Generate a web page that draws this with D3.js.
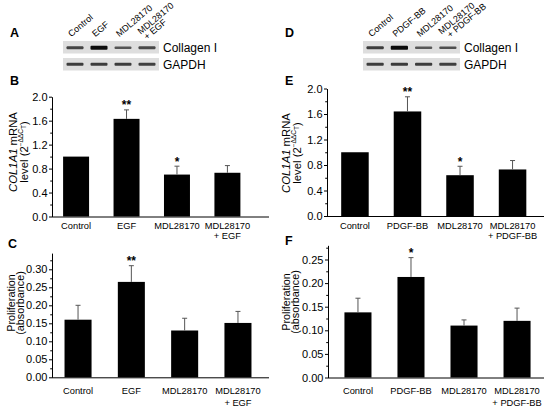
<!DOCTYPE html>
<html><head><meta charset="utf-8">
<script src="https://cdn.jsdelivr.net/npm/d3@7"></script>
<style>
body{margin:0;background:#fff}
svg{display:block;font-family:Arial,"Liberation Sans",Helvetica,sans-serif}
</style>
</head><body>
<svg id="c" width="549" height="407"></svg>
<script>
// ---------- data ----------
const categoriesEGF = ["Control", "EGF", "MDL28170", "MDL28170\n+ EGF"];
const categoriesPDGF = ["Control", "PDGF-BB", "MDL28170", "MDL28170\n+ PDGF-BB"];

const mrnaEGF = [1.00, 1.63, 0.70, 0.73];
const mrnaEGFErr = [0, 0.15, 0.14, 0.12];
const mrnaEGFSig = ["", "**", "*", ""];

const mrnaPDGF = [1.00, 1.64, 0.64, 0.73];
const mrnaPDGFErr = [0, 0.23, 0.14, 0.14];
const mrnaPDGFSig = ["", "**", "*", ""];

const prolifEGF = [0.160, 0.265, 0.130, 0.151];
const prolifEGFErr = [0.040, 0.045, 0.034, 0.032];
const prolifEGFSig = ["", "**", "", ""];

const prolifPDGF = [0.138, 0.213, 0.110, 0.120];
const prolifPDGFErr = [0.030, 0.041, 0.012, 0.027];
const prolifPDGFSig = ["", "*", "", ""];

const mrnaTicks = [0, 0.4, 0.8, 1.2, 1.6, 2.0];
const mrnaMinorTicks = [0.2, 0.6, 1.0, 1.4, 1.8];
const prolifEGFTicks = [0, 0.05, 0.10, 0.15, 0.20, 0.25, 0.30];
const prolifEGFMinorTicks = [0.025, 0.075, 0.125, 0.175, 0.225, 0.275, 0.325];
const prolifPDGFTicks = [0, 0.05, 0.10, 0.15, 0.20, 0.25];
const prolifPDGFMinorTicks = [0.025, 0.075, 0.125, 0.175, 0.225, 0.275];

// western blot band intensities (relative)
const blotCollagenA = [0.55, 1.0, 0.42, 0.5];
const blotGapdhA = [0.6, 0.6, 0.6, 0.58];
const blotCollagenD = [0.6, 1.0, 0.38, 0.45];
const blotGapdhD = [0.6, 0.62, 0.6, 0.58];
const blotRows = ["Collagen I", "GAPDH"];

const panelLetters = ["A", "B", "C", "D", "E", "F"];

// ---------- drawing ----------
const svg = d3.select("#c");
const FONT = "Arial,'Liberation Sans',Helvetica,sans-serif";

const defs = svg.append("defs");
defs.append("filter").attr("id", "blur").attr("x", "-20%").attr("y", "-100%").attr("width", "140%").attr("height", "300%")
  .append("feGaussianBlur").attr("stdDeviation", 0.7);

// panel letters
const letterPos = [[10, 37], [10, 85], [8, 248], [285, 37], [285, 85], [285, 245]];
svg.selectAll("text.letter").data(panelLetters).join("text")
  .attr("class", "letter")
  .attr("x", (d, i) => letterPos[i][0]).attr("y", (d, i) => letterPos[i][1])
  .attr("font-size", 12.5).attr("font-weight", "bold").text(d => d);

function blot(cfg) {
  const g = svg.append("g");
  const lanes = d3.scaleBand().domain(cfg.cats).range([cfg.x0, cfg.x1]);
  const rowY = d3.scaleOrdinal().domain(blotRows).range([cfg.y0, cfg.y0 + 17]);
  const rowH = 12.5;
  const rows = [cfg.collagen, cfg.gapdh];
  blotRows.forEach((r, ri) => {
    g.append("rect").attr("x", cfg.x0).attr("y", rowY(r)).attr("width", cfg.x1 - cfg.x0).attr("height", rowH)
      .attr("fill", "#dedede");
    g.selectAll(null).data(rows[ri]).join("rect")
      .attr("x", (d, i) => lanes(cfg.cats[i]) + 3.5)
      .attr("width", lanes.bandwidth() - 7)
      .attr("y", d => rowY(r) + rowH / 2 - (1.4 + 2.8 * d) / 2 + (ri === 0 ? 0.5 : 0))
      .attr("height", d => 1.4 + 2.8 * d)
      .attr("rx", 1)
      .attr("fill", d => d3.interpolateRgb("#8a8a8a", "#0a0a0a")(d))
      .attr("filter", "url(#blur)");
    g.append("text").attr("x", cfg.x1 + 4).attr("y", rowY(r) + rowH / 2 + 4.5)
      .attr("font-size", 12).text(r);
  });
  // lane labels (rotated)
  cfg.cats.forEach((c, i) => {
    const lines = c.split("\n");
    const t = g.append("text")
      .attr("transform", `translate(${lanes(c) + lanes.bandwidth() / 2 - 3},${cfg.y0 - 3}) rotate(-40)`)
      .attr("font-size", 9);
    if (lines.length === 1) {
      t.append("tspan").attr("x", 0).attr("dy", -1).text(lines[0]);
    } else {
      t.append("tspan").attr("x", -0.5).attr("dy", -4.5).text(lines[0]);
      t.append("tspan").attr("x", cfg.line2dx).attr("dy", 8).text(lines[1]);
    }
  });
}

blot({x0: 63, x1: 159, y0: 41, cats: categoriesEGF, collagen: blotCollagenA, gapdh: blotGapdhA, line2dx: 1});
blot({x0: 363, x1: 460, y0: 41, cats: categoriesPDGF, collagen: blotCollagenD, gapdh: blotGapdhD, line2dx: 4});

function barPanel(cfg) {
  const g = svg.append("g");
  const pxPerUnit = (cfg.yZero - cfg.yRefPx) / cfg.yRefVal;
  const y = d3.scaleLinear().domain([0, cfg.domainMax])
    .range([cfg.yZero, cfg.yZero - cfg.domainMax * pxPerUnit]);
  const x = d3.scaleBand().domain(cfg.cats).range(cfg.band)
    .paddingInner(cfg.pi).paddingOuter(cfg.po);
  const cx = c => x(c) + x.bandwidth() / 2;

  // bars
  g.selectAll("rect.bar").data(cfg.values).join("rect")
    .attr("class", "bar")
    .attr("x", (d, i) => x(cfg.cats[i]))
    .attr("width", x.bandwidth())
    .attr("y", d => y(d))
    .attr("height", d => cfg.yZero - y(d))
    .attr("fill", "#000");

  // error bars (upper only)
  const eb = g.selectAll("g.err").data(cfg.values.map((v, i) => ({v, e: cfg.errs[i], c: cfg.cats[i], s: cfg.sig[i]})))
    .join("g").attr("class", "err");
  eb.filter(d => d.e > 0).append("line")
    .attr("x1", d => cx(d.c)).attr("x2", d => cx(d.c))
    .attr("y1", d => y(d.v)).attr("y2", d => y(d.v + d.e))
    .attr("stroke", "#555").attr("stroke-width", 1);
  eb.filter(d => d.e > 0).append("line")
    .attr("x1", d => cx(d.c) - 2.5).attr("x2", d => cx(d.c) + 2.5)
    .attr("y1", d => y(d.v + d.e)).attr("y2", d => y(d.v + d.e))
    .attr("stroke", "#555").attr("stroke-width", 1);
  eb.filter(d => d.s).append("text")
    .attr("x", d => cx(d.c))
    .attr("y", d => y(d.v + d.e) - 0.5)
    .attr("text-anchor", "middle").attr("font-size", 12).attr("font-weight", "bold")
    .text(d => d.s);

  // y axis
  const ya = g.append("g").attr("transform", `translate(${cfg.x0},0)`)
    .call(d3.axisLeft(y).tickValues(cfg.ticks).tickFormat(d3.format(cfg.fmt)).tickSize(3).tickSizeOuter(0).tickPadding(1.5));
  ya.selectAll("text").attr("font-size", 11).attr("font-family", FONT).attr("fill", "#000");
  ya.select(".domain").attr("stroke", "#000");
  ya.selectAll(".tick line").attr("stroke", "#000");
  const ym = g.append("g").attr("transform", `translate(${cfg.x0},0)`)
    .call(d3.axisLeft(y).tickValues(cfg.minor.filter(v => v <= cfg.domainMax)).tickFormat("").tickSize(1.8).tickSizeOuter(0));
  ym.select(".domain").remove();
  ym.selectAll(".tick line").attr("stroke", "#000");

  // x axis
  const xa = g.append("g").attr("transform", `translate(0,${cfg.yZero})`)
    .call(d3.axisBottom(x).tickSize(0).tickPadding(cfg.labelPad).tickSizeOuter(0));
  xa.select(".domain").attr("stroke", "#000").attr("d", `M${cfg.x0},0.5H${cfg.x1}`);
  xa.selectAll(".tick text").each(function(d) {
    const t = d3.select(this);
    const lines = d.split("\n");
    t.text(null).attr("font-size", 9.3).attr("fill", "#000").attr("font-family", FONT);
    lines.forEach((l, li) => t.append("tspan").attr("x", 0).attr("dy", li === 0 ? "0.71em" : cfg.lineGap).text(l));
  });

  // y title (two lines)
  const t1 = g.append("text").attr("transform", `translate(${cfg.titleX1},${cfg.titleY}) rotate(-90)`)
    .attr("text-anchor", "middle").attr("font-size", cfg.titleSize);
  cfg.title1(t1);
  const t2 = g.append("text").attr("transform", `translate(${cfg.titleX2},${cfg.titleY}) rotate(-90)`)
    .attr("text-anchor", "middle").attr("font-size", cfg.titleSize);
  cfg.title2(t2);
}

const mrnaTitle1 = t => { t.append("tspan").attr("font-style", "italic").text("COL1A1"); t.append("tspan").text(" mRNA"); };
const mrnaTitle2 = t => {
  t.append("tspan").text("level (2");
  t.append("tspan").attr("font-size", 6.5).attr("dy", -5).text("\u2212\u0394\u0394C");
  t.append("tspan").attr("font-size", 6.5).attr("dy", 3).text("T");
  t.append("tspan").attr("dy", 2).text(")");
};
const prolTitle1 = t => t.text("Proliferation");
const prolTitle2 = t => t.text("(absorbance)");

barPanel({x0: 52, x1: 269, yZero: 216.5, yRefVal: 2.0, yRefPx: 96.7, domainMax: 2.0,
  band: [52, 251.5], pi: 0.485, po: 0.22,
  ticks: mrnaTicks, minor: mrnaMinorTicks, fmt: ".1f", values: mrnaEGF, errs: mrnaEGFErr, sig: mrnaEGFSig,
  cats: categoriesEGF, labelPad: 6, lineGap: "1.1em", titleX1: 16.5, titleX2: 27.5, titleY: 152, titleSize: 11.3,
  title1: mrnaTitle1, title2: mrnaTitle2});
barPanel({x0: 327, x1: 544, yZero: 216, yRefVal: 2.0, yRefPx: 88.5, domainMax: 2.0,
  band: [327, 540.5], pi: 0.476, po: 0.27,
  ticks: mrnaTicks, minor: mrnaMinorTicks, fmt: ".1f", values: mrnaPDGF, errs: mrnaPDGFErr, sig: mrnaPDGFSig,
  cats: categoriesPDGF, labelPad: 6, lineGap: "1.1em", titleX1: 290, titleX2: 301, titleY: 153, titleSize: 11.3,
  title1: mrnaTitle1, title2: mrnaTitle2});
barPanel({x0: 52, x1: 269, yZero: 377.3, yRefVal: 0.30, yRefPx: 269.3, domainMax: 0.345,
  band: [52, 264], pi: 0.493, po: 0.235,
  ticks: prolifEGFTicks, minor: prolifEGFMinorTicks, fmt: ".2f", values: prolifEGF, errs: prolifEGFErr, sig: prolifEGFSig,
  cats: categoriesEGF, labelPad: 10, lineGap: "1.3em", titleX1: 15, titleX2: 24, titleY: 303, titleSize: 10.8,
  title1: prolTitle1, title2: prolTitle2});
barPanel({x0: 328, x1: 544, yZero: 377.5, yRefVal: 0.25, yRefPx: 259.5, domainMax: 0.28,
  band: [328, 547], pi: 0.49, po: 0.31,
  ticks: prolifPDGFTicks, minor: prolifPDGFMinorTicks, fmt: ".2f", values: prolifPDGF, errs: prolifPDGFErr, sig: prolifPDGFSig,
  cats: categoriesPDGF, labelPad: 10, lineGap: "1.3em", titleX1: 290, titleX2: 299, titleY: 302, titleSize: 10.8,
  title1: prolTitle1, title2: prolTitle2});
</script>
</body></html>
